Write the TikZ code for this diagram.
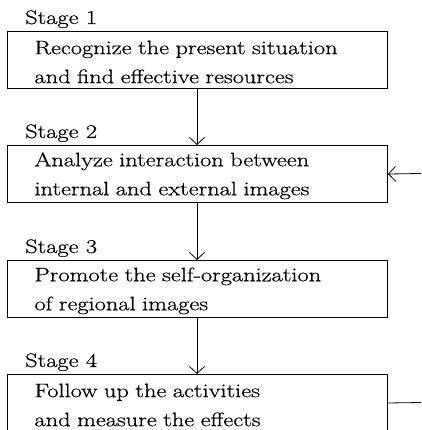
\documentclass[tikz,border=0pt]{standalone}
\usepackage{fontspec}
\setmainfont{Latin Modern Roman}[FakeStretch=1.25, FakeBold=0.6]
\usetikzlibrary{arrows.meta}
\begin{document}
\begin{tikzpicture}[x=1pt,y=-1pt,
  box/.style={draw, line width=1pt, minimum width=380pt, minimum height=57pt,
    inner xsep=27pt, inner ysep=0pt, text width=326pt, align=left,
    execute at begin node={\rule{0pt}{17.5pt}},
    font=\fontsize{19.5}{29}\selectfont},
  lab/.style={anchor=base west, inner sep=0pt, font=\fontsize{19.5}{23}\selectfont},
  arr/.style={-{Straight Barb[length=7pt,width=15pt]}, line width=0.8pt}]
\useasboundingbox (0,0) rectangle (421,430);
\clip (0,0) rectangle (421,430);
\node[lab] (l1) at (25,24) {Stage 1};
\node[box, anchor=north west] (b1) at (7,31) {Recognize the present situation\\and find effective resources};
\node[lab] (l2) at (25,138) {Stage 2};
\node[box, anchor=north west] (b2) at (7,145) {Analyze interaction between\\internal and external images};
\node[lab] (l3) at (25,253) {Stage 3};
\node[box, anchor=north west] (b3) at (7,260) {Promote the self-organization\\of regional images};
\node[lab] (l4) at (25,367) {Stage 4};
\node[box, anchor=north west] (b4) at (7,374) {Follow up the activities\\and measure the effects};
\coordinate (in2) at (421,173.5);
\coordinate (out4) at (421,402.5);
\draw[arr] (b1.south -| 197,0) -- (b2.north -| 197,0);
\draw[arr] (b2.south -| 197,0) -- (b3.north -| 197,0);
\draw[arr] (b3.south -| 197,0) -- (b4.north -| 197,0);
\draw[arr] (in2) -- (b2.east);
\draw[line width=0.8pt] (b4.east) -- (out4);
\end{tikzpicture}
\end{document}
